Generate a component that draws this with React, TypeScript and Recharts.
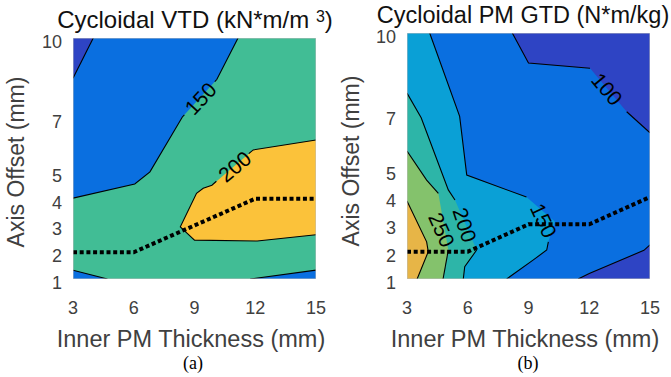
import React from 'react';
import { ComposedChart, Scatter, XAxis, YAxis } from 'recharts';

type XY = [number, number];

// ---------- axes ----------
const X_TICKS = [3, 6, 9, 12, 15];
const Y_TICKS = [1, 2, 3, 4, 5, 7, 10];
const FIELD: XY[] = [[3, 1], [15, 1], [15, 10], [3, 10]];

// ---------- (a) Cycloidal VTD ----------
const vtdBlueUpper: XY[] = [[3, 10], [11.15, 10], [10.1, 8.45], [8.4, 7.05], [6.8, 5.0], [6.05, 4.55], [3, 4.02]];
const vtdDarkCorner: XY[] = [[3, 10], [4, 10], [3, 8.5]];
const vtdBlueLowLeft: XY[] = [[3, 1], [3, 1.33], [4.7, 1]];
const vtdBlueLowRight: XY[] = [[11.75, 1], [15, 1.33], [15, 1]];
const vtdYellow: XY[] = [[15, 6.19], [11.9, 5.82], [9.86, 4.5], [9.43, 4.39], [9.1, 4.2], [8.3, 2.95], [9, 2.45], [12.1, 2.42], [15, 2.65]];

const vtdLine100: XY[] = [[4, 10], [3, 8.5]];
const vtdLine150a: XY[] = [[3, 4.02], [6.05, 4.55], [6.8, 5.0], [8.4, 7.05], [8.5, 7.13]];
const vtdLine150b: XY[] = [[10.0, 8.37], [10.1, 8.45], [11.15, 10]];
const vtdLine200a: XY[] = [[15, 6.19], [11.9, 5.82], [11.68, 5.68]];
const vtdLine200b: XY[] = [[10.08, 4.65], [9.86, 4.5], [9.43, 4.39], [9.1, 4.2], [8.3, 2.95], [9, 2.45], [12.1, 2.42], [15, 2.65]];
const vtdLine150c: XY[] = [[3, 1.33], [4.7, 1]];
const vtdLine150d: XY[] = [[11.75, 1], [15, 1.33]];
const vtdOptimum: XY[] = [[3, 2], [6, 2], [9, 3], [12, 4], [15, 4]];
const vtdLabels = [
  { x: 9.3, y: 7.74, text: '150', angle: -47 },
  { x: 10.98, y: 5.2, text: '200', angle: -40 },
];

// ---------- (b) Cycloidal PM GTD ----------
const gtdDarkTop: XY[] = [[8.2, 10], [9, 8.9], [12.04, 8.71], [13.85, 7.12], [15, 6.35], [15, 10]];
const gtdDarkBottom: XY[] = [[11.45, 1], [12, 1.2], [14.7, 2.05], [15, 2.25], [15, 1]];
const gtdLightBlue: XY[] = [[3, 10], [4.12, 10], [5.6, 6.95], [5.95, 4.8], [8.9, 4.0], [10.3, 3.1], [9.98, 2.36], [9.9, 2.06], [9.24, 1.7], [7.92, 1], [3, 1]];
const gtdTeal: XY[] = [[3, 7.8], [3.7, 6.9], [5.04, 4.26], [5.37, 3.89], [6.44, 2.06], [5.85, 1.45], [5.78, 1], [3, 1]];
const gtdGreen: XY[] = [[3, 5.68], [3.97, 4.62], [4.55, 4.13], [5.04, 2.06], [4.78, 1], [3, 1]];
const gtdOrange: XY[] = [[3, 3.85], [3.97, 2.36], [4.05, 2.0], [3.5, 1], [3, 1]];

const gtdLine100a: XY[] = [[8.2, 10], [9, 8.9], [12.04, 8.71]];
const gtdLine100b: XY[] = [[13.85, 7.12], [15, 6.35]];
const gtdLine100c: XY[] = [[11.45, 1], [12, 1.2], [14.7, 2.05], [15, 2.25]];
const gtdLine150a: XY[] = [[4.12, 10], [5.6, 6.95], [5.95, 4.8], [8.9, 4.0]];
const gtdLine150b: XY[] = [[9.98, 2.36], [9.9, 2.06], [9.24, 1.7], [7.92, 1]];
const gtdLine200a: XY[] = [[3, 7.8], [3.7, 6.9], [5.04, 4.26], [5.37, 3.89]];
const gtdLine200b: XY[] = [[6.44, 2.06], [5.85, 1.45], [5.78, 1]];
const gtdLine250a: XY[] = [[3, 5.68], [3.97, 4.62], [4.55, 4.13]];
const gtdLine250b: XY[] = [[5.04, 2.06], [4.78, 1]];
const gtdLine300: XY[] = [[3, 3.85], [3.97, 2.36], [4.05, 2.0], [3.5, 1]];
const gtdOptimum: XY[] = [[3, 2], [6, 2], [9, 3], [12, 3], [15, 4]];
const gtdLabels = [
  { x: 12.88, y: 7.95, text: '100', angle: 50 },
  { x: 9.75, y: 3.14, text: '150', angle: 65 },
  { x: 5.85, y: 2.98, text: '200', angle: 72 },
  { x: 4.72, y: 2.8, text: '250', angle: 66 },
];

// ---------- colours ----------
const C_DARK = '#2e44c4';
const C_BLUE = '#0a6fe0';
const C_LIGHT = '#0aa0d6';
const C_TEAL_B = '#2db5a8';
const C_TEAL_A = '#41bd95';
const C_GREEN = '#84c26c';
const C_ORANGE = '#e7b547';
const C_YELLOW = '#fbc23a';

const FONT = '"Liberation Sans", Arial, Helvetica, sans-serif';

const toData = (pts: XY[]) => pts.map(([x, y]) => ({ x, y }));
const hidden = () => <g />;
const pathOf = (pts: { x: number; y: number }[], close: boolean) =>
  pts.map((p, i) => `${i === 0 ? 'M' : 'L'}${p.x},${p.y}`).join(' ') + (close ? ' Z' : '');

const fillRenderer = (color: string) => (props: any) => (
  <path d={pathOf(props.points || [], true)} fill={color} stroke="none" />
);
const strokeRenderer = (color: string, width: number, dash?: string, close = false) => (props: any) => (
  <path
    d={pathOf(props.points || [], close)}
    fill="none"
    stroke={color}
    strokeWidth={width}
    strokeDasharray={dash}
    strokeLinejoin="miter"
    strokeLinecap="butt"
  />
);

const renderLabel = (props: any) => {
  const d = props.payload ?? props;
  const { cx, cy } = props;
  return (
    <text
      x={cx}
      y={cy}
      transform={`rotate(${d.angle} ${cx} ${cy})`}
      textAnchor="middle"
      dominantBaseline="central"
      fontSize={21}
      fontFamily={FONT}
      fill="#000"
    >
      {d.text}
    </text>
  );
};

const renderXTick = (props: any) => (
  <text x={props.x} y={props.y + 35} textAnchor="middle" fontSize={18} fill="#404040" fontFamily={FONT}>
    {props.payload.value}
  </text>
);
const renderYTick = (props: any) => (
  <text x={props.x - 11} y={props.y + 10} textAnchor="end" fontSize={18} fill="#404040" fontFamily={FONT}>
    {props.payload.value}
  </text>
);

type Region = { color: string; pts: XY[] };

function ContourPanel(p: {
  width: number;
  margin: { top: number; right: number; bottom: number; left: number };
  base: string;
  regions: Region[];
  lines: XY[][];
  optimum: XY[];
  labels: { x: number; y: number; text: string; angle: number }[];
}) {
  return (
    <ComposedChart width={p.width} height={377} margin={p.margin}>
      <XAxis
        type="number"
        dataKey="x"
        domain={[3, 15]}
        ticks={X_TICKS}
        interval={0}
        allowDataOverflow
        axisLine={false}
        tickLine={false}
        tickSize={0}
        tickMargin={0}
        height={1}
        tick={renderXTick}
      />
      <YAxis
        type="number"
        dataKey="y"
        domain={[1, 10]}
        ticks={Y_TICKS}
        interval={0}
        allowDataOverflow
        axisLine={false}
        tickLine={false}
        tickSize={0}
        tickMargin={0}
        width={1}
        tick={renderYTick}
      />
      <Scatter data={toData(FIELD)} line={fillRenderer(p.base)} shape={hidden} isAnimationActive={false} />
      {p.regions.map((r, i) => (
        <Scatter key={`r${i}`} data={toData(r.pts)} line={fillRenderer(r.color)} shape={hidden} isAnimationActive={false} />
      ))}
      {p.lines.map((l, i) => (
        <Scatter key={`l${i}`} data={toData(l)} line={strokeRenderer('#000', 1.1)} shape={hidden} isAnimationActive={false} />
      ))}
      <Scatter data={toData(p.optimum)} line={strokeRenderer('#000', 4, '4 2.7')} shape={hidden} isAnimationActive={false} />
      <Scatter data={p.labels} shape={renderLabel} isAnimationActive={false} />
      <Scatter data={toData(FIELD)} line={strokeRenderer('#bdbdbd', 1, undefined, true)} shape={hidden} isAnimationActive={false} />
    </ComposedChart>
  );
}

const abs = (left: number, top: number, extra: React.CSSProperties = {}): React.CSSProperties => ({
  position: 'absolute',
  left,
  top,
  transform: 'translate(-50%, -50%)',
  whiteSpace: 'nowrap',
  fontFamily: FONT,
  lineHeight: 0.9,
  ...extra,
});

export default function App() {
  return (
    <div style={{ position: 'absolute', left: 0, top: 0, width: 671, height: 377, background: '#fff', overflow: 'hidden' }}>
      <div style={{ position: 'absolute', left: 0, top: 0 }}>
        <ContourPanel
          width={335}
          margin={{ top: 38, right: 19, bottom: 97, left: 72 }}
          base={C_TEAL_A}
          regions={[
            { color: C_BLUE, pts: vtdBlueUpper },
            { color: C_DARK, pts: vtdDarkCorner },
            { color: C_BLUE, pts: vtdBlueLowLeft },
            { color: C_BLUE, pts: vtdBlueLowRight },
            { color: C_YELLOW, pts: vtdYellow },
          ]}
          lines={[vtdLine100, vtdLine150a, vtdLine150b, vtdLine200a, vtdLine200b, vtdLine150c, vtdLine150d]}
          optimum={vtdOptimum}
          labels={vtdLabels}
        />
      </div>
      <div style={{ position: 'absolute', left: 335, top: 0 }}>
        <ContourPanel
          width={336}
          margin={{ top: 33, right: 21, bottom: 97, left: 71 }}
          base={C_BLUE}
          regions={[
            { color: C_DARK, pts: gtdDarkTop },
            { color: C_DARK, pts: gtdDarkBottom },
            { color: C_LIGHT, pts: gtdLightBlue },
            { color: C_TEAL_B, pts: gtdTeal },
            { color: C_GREEN, pts: gtdGreen },
            { color: C_ORANGE, pts: gtdOrange },
          ]}
          lines={[gtdLine100a, gtdLine100b, gtdLine100c, gtdLine150a, gtdLine150b, gtdLine200a, gtdLine200b, gtdLine250a, gtdLine250b, gtdLine300]}
          optimum={gtdOptimum}
          labels={gtdLabels}
        />
      </div>

      <div style={abs(195, 20, { fontSize: 24, color: '#111' })}>
        Cycloidal VTD (kN*m/m <span style={{ fontSize: 16, position: 'relative', top: -6 }}>3</span>)
      </div>
      <div style={abs(523, 15.5, { fontSize: 23.5, color: '#111' })}>Cycloidal PM GTD (N*m/kg)</div>

      <div style={abs(16, 162, { fontSize: 23, color: '#404040', transform: 'translate(-50%, -50%) rotate(-90deg)' })}>
        Axis Offset (mm)
      </div>
      <div style={abs(351, 161, { fontSize: 23, color: '#404040', transform: 'translate(-50%, -50%) rotate(-90deg)' })}>
        Axis Offset (mm)
      </div>

      <div style={abs(191, 340, { fontSize: 23.5, color: '#404040' })}>Inner PM Thickness (mm)</div>
      <div style={abs(525, 340, { fontSize: 23.5, color: '#404040' })}>Inner PM Thickness (mm)</div>

      <div style={abs(193, 363, { fontSize: 18, color: '#000', fontFamily: '"Liberation Serif", "Times New Roman", serif' })}>(a)</div>
      <div style={abs(528, 363, { fontSize: 18, color: '#000', fontFamily: '"Liberation Serif", "Times New Roman", serif' })}>(b)</div>
    </div>
  );
}
